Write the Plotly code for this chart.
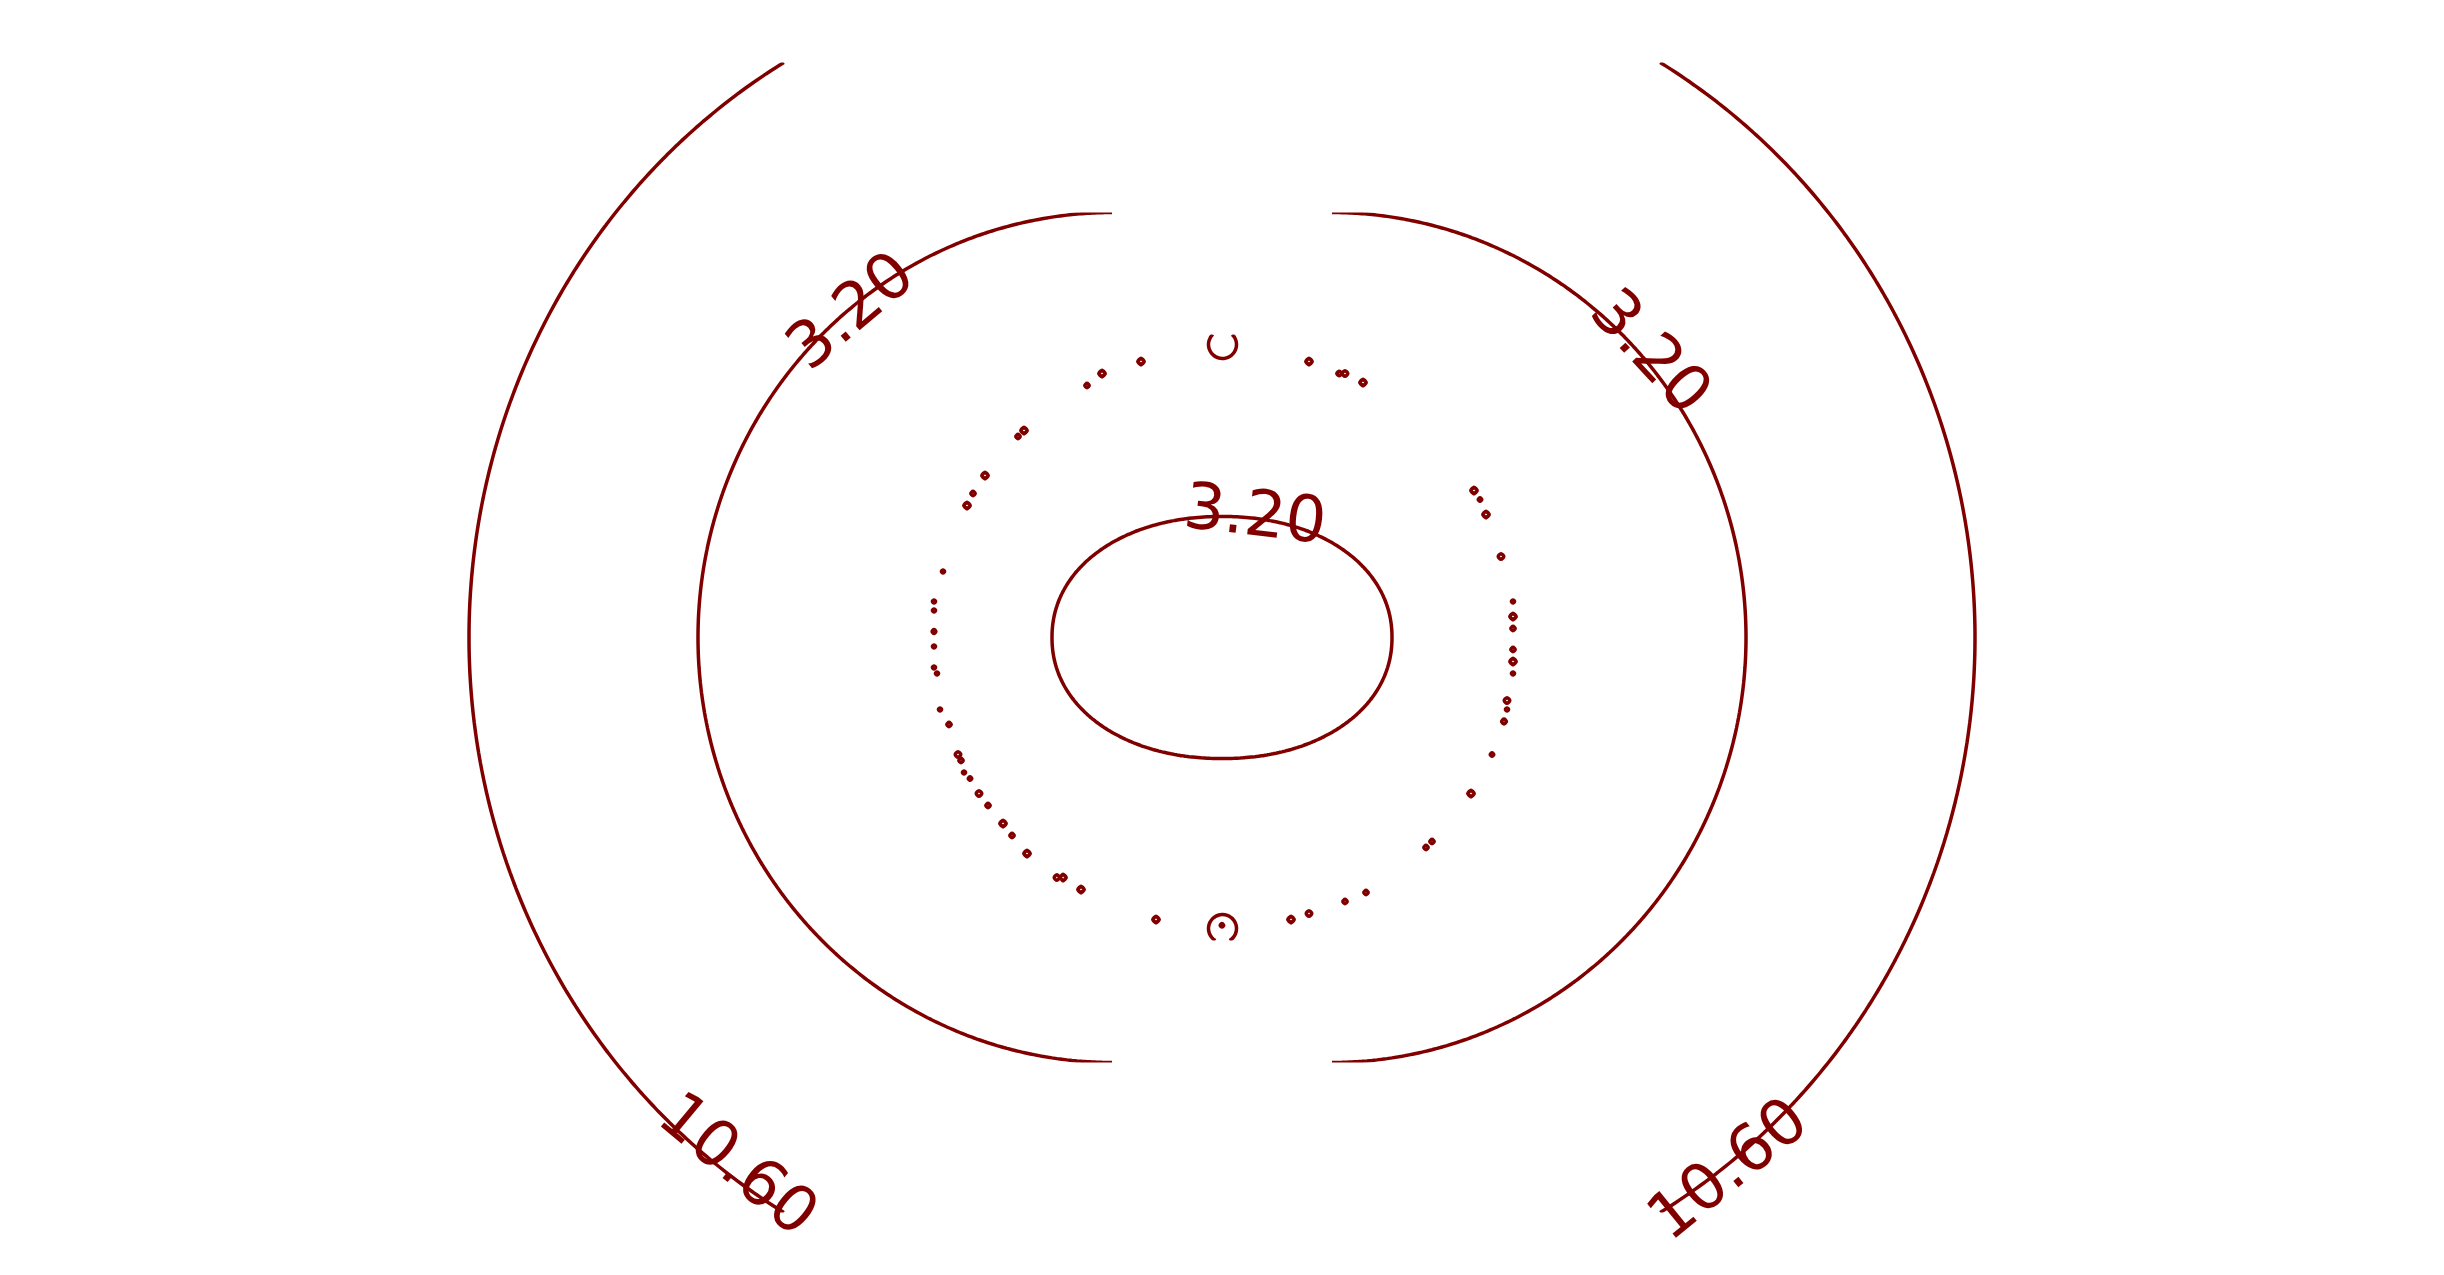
import numpy as np
import plotly.graph_objects as go

# ---------------- data ----------------
# units are screen pixels, origin at the chart centre, y pointing up
FIG_W, FIG_H = 2444, 1275
PAGE_OFFSET = 8          # the page body margin shifts the figure; compensate in the ranges
LINE_COLOR = "#800000"
LINE_WIDTH = 3.5
LABEL_SIZE = 64

LEVEL_START = 3.2
LEVEL_SIZE = 7.4
LEVEL_END = 10.6

# outer field (10.60 arcs)
OUTER_GAP, OUTER_RX, OUTER_RY = 109, 644, 669
OUTER_Y_RANGE = [-575, 575]
# middle field (3.20 arcs): the flat parts lie exactly on the data edge
MIDDLE_GAP, MIDDLE_RX, MIDDLE_RY = 109, 415, 425
MIDDLE_X_RANGE = [-600, 600]
# inner field (3.20 loop + ring of tiny loops)
INNER_RX, INNER_RY, INNER_P = 170, 121, 2.1
INNER_X_RANGE = [-330, 330]
INNER_Y_RANGE = [-303, 303]

# tiny loops on the ring: position (u, v) and loop radius
DOT_U = [-82, -119, -136, 87, 118, 124, 140, -199, -205, -237, -249, -255, -280, -287, -288,
         -289, -289, -288, -286, -281, -274, -264, -261, -257, -252, -243, -234, -220, -210,
         -194, -164, -160, -142, -66, 70, 88, 124, 143, 204, 211, 248, 270, 281, 284, 286,
         291, 292, 292, 292, 292, 291, 280, 265, 258, 253]
DOT_V = [275.5, 262.5, 253.5, 275.5, 264.5, 262.5, 254.5, 207.5, 200.5, 162.5, 143.5, 133.5,
         67.5, 35.5, 27.5, 6.5, -8.5, -28.5, -37.5, -70.5, -87.5, -117.5, -123.5, -134.5,
         -141.5, -157.5, -167.5, -187.5, -197.5, -214.5, -238.5, -240.5, -252.5, -282.5,
         -282.5, -277.5, -264.5, -254.5, -209.5, -202.5, -157.5, -117.5, -83.5, -70.5, -62.5,
         -36.5, -23.5, -10.5, 8.5, 21.5, 34.5, 80.5, 122.5, 136.5, 147.5]
DOT_R = [3.2, 3.2, 2.2, 3.2, 2.2, 2.8, 3.2, 3.2, 2.2, 3.2, 2.2, 3.2, 1.6, 1.6, 1.6,
         1.9, 1.6, 1.6, 1.6, 1.6, 2.2, 2.8, 2.2, 1.6, 1.8, 2.8, 2.2, 3.2, 2.2,
         3.2, 2.8, 3.2, 3.2, 3.2, 3.2, 2.8, 2.2, 2.2, 2.2, 2.2, 3.2, 1.8, 2.4, 1.6, 2.8,
         1.6, 3.2, 2.2, 2.2, 3.2, 1.6, 2.8, 3.2, 1.8, 3.2]
# the two larger loops at the top and bottom of the ring, and the hole in the lower one
BIG_U = [0.5, 0.5]
BIG_V = [293, -291]
BIG_R = [14, 14]
HOLE_U, HOLE_V, HOLE_R = 0.0, -287.5, 1.6

# contour labels: which curve, which side, where along it (inner: u, arcs: v), nudge in px
LABEL_TEXT = ["3.20", "3.20", "3.20", "10.60", "10.60"]
LABEL_CURVE = ["inner", "middle", "middle", "outer", "outer"]
LABEL_SIDE = [1, -1, 1, -1, 1]
LABEL_POS = [33, 328, 292, -522, -527]
LABEL_DX = [0, 0, 20, 29, -1]
LABEL_DY = [5, 0, -5, -3, -3]


# ---------------- fields ----------------
def grid(xr, yr, step):
    xs = np.arange(xr[0], xr[1] + 0.001, step, dtype=float)
    ys = np.arange(yr[0], yr[1] + 0.001, step, dtype=float)
    X, Y = np.meshgrid(xs, ys)
    return xs, ys, X, Y


xa, ya, XA, YA = grid([-1236, 1236], OUTER_Y_RANGE, 10)
DA = np.sqrt((np.maximum(np.abs(XA) - OUTER_GAP, 0) / OUTER_RX) ** 2 + (YA / OUTER_RY) ** 2)
ZA = LEVEL_END + 5.0 * (DA - 1.0)

xb, yb, XB, YB = grid(MIDDLE_X_RANGE, [-MIDDLE_RY, MIDDLE_RY], 5)
DB = np.sqrt((np.maximum(np.abs(XB) - MIDDLE_GAP, 0) / MIDDLE_RX) ** 2 + (YB / MIDDLE_RY) ** 2)
ZB = LEVEL_START * DB

step_c = 3
xc, yc, XC, YC = grid(INNER_X_RANGE, INNER_Y_RANGE, step_c)
S = ((np.abs(XC) / INNER_RX) ** INNER_P + (np.abs(YC) / INNER_RY) ** INNER_P) ** (1.0 / INNER_P)
ZC = LEVEL_START + 2.0 * (1.0 - S)
for u, v, r in zip(DOT_U, DOT_V, DOT_R):
    cu = round(u / step_c) * step_c
    cv = round(v / step_c) * step_c
    d = np.hypot(XC - cu, YC - cv)
    ZC = np.maximum(ZC, LEVEL_START + 0.5 * (1.0 - d / r))
for u, v, r in zip(BIG_U, BIG_V, BIG_R):
    d = np.hypot(XC - u, YC - v)
    ZC = np.maximum(ZC, LEVEL_START + 0.5 * (1.0 - d / r))
dh = np.hypot(XC - round(HOLE_U / step_c) * step_c, YC - round(HOLE_V / step_c) * step_c)
ZC = np.minimum(ZC, LEVEL_START + 0.5 * (dh / HOLE_R - 1.0))


def contour(xs, ys, z):
    return go.Contour(
        x=xs, y=ys, z=np.round(z, 4),
        contours=dict(start=LEVEL_START, end=LEVEL_END, size=LEVEL_SIZE, coloring="lines",
                      showlabels=False),
        colorscale=[[0, LINE_COLOR], [1, LINE_COLOR]],
        line=dict(width=LINE_WIDTH, smoothing=1),
        showscale=False, hoverinfo="skip",
    )


fig = go.Figure()
for xs, ys, z in [(xa, ya, ZA), (xb, yb, ZB), (xc, yc, ZC)]:
    fig.add_trace(contour(xs, ys, z))


# ---------------- labels placed on the curves ----------------
def screen_angle(du, dv):
    ang = np.degrees(np.arctan2(-dv, du))
    if ang > 90:
        ang -= 180
    if ang <= -90:
        ang += 180
    return float(ang)


def label_point(curve, side, pos):
    if curve == "inner":
        f = lambda uu: side * INNER_RY * (1 - (abs(uu) / INNER_RX) ** INNER_P) ** (1 / INNER_P)
        u = pos
        return float(u), float(f(u)), screen_angle(1.0, f(u + 0.5) - f(u - 0.5))
    if curve == "middle":
        gap, rx, ry = MIDDLE_GAP, MIDDLE_RX, MIDDLE_RY
    else:
        gap, rx, ry = OUTER_GAP, OUTER_RX, OUTER_RY
    g = lambda vv: side * (gap + rx * np.sqrt(1 - (vv / ry) ** 2))
    v = pos
    return float(g(v)), float(v), screen_angle(g(v + 0.5) - g(v - 0.5), 1.0)


annotations = []
for text, curve, side, pos, dx, dy in zip(LABEL_TEXT, LABEL_CURVE, LABEL_SIDE, LABEL_POS,
                                          LABEL_DX, LABEL_DY):
    u, v, ang = label_point(curve, side, pos)
    annotations.append(dict(x=u, y=v, xref="x", yref="y", text=text, showarrow=False,
                            textangle=ang, xanchor="center", yanchor="middle",
                            xshift=dx, yshift=dy,
                            font=dict(size=LABEL_SIZE, color=LINE_COLOR, family="DejaVu Sans")))

fig.update_layout(
    width=FIG_W, height=FIG_H,
    margin=dict(l=0, r=0, t=0, b=0),
    paper_bgcolor="white", plot_bgcolor="white",
    showlegend=False,
    xaxis=dict(visible=False, range=[-FIG_W / 2 + PAGE_OFFSET, FIG_W / 2 + PAGE_OFFSET]),
    yaxis=dict(visible=False, range=[-FIG_H / 2 - PAGE_OFFSET, FIG_H / 2 - PAGE_OFFSET]),
    annotations=annotations,
)
fig.write_html("out.html")
